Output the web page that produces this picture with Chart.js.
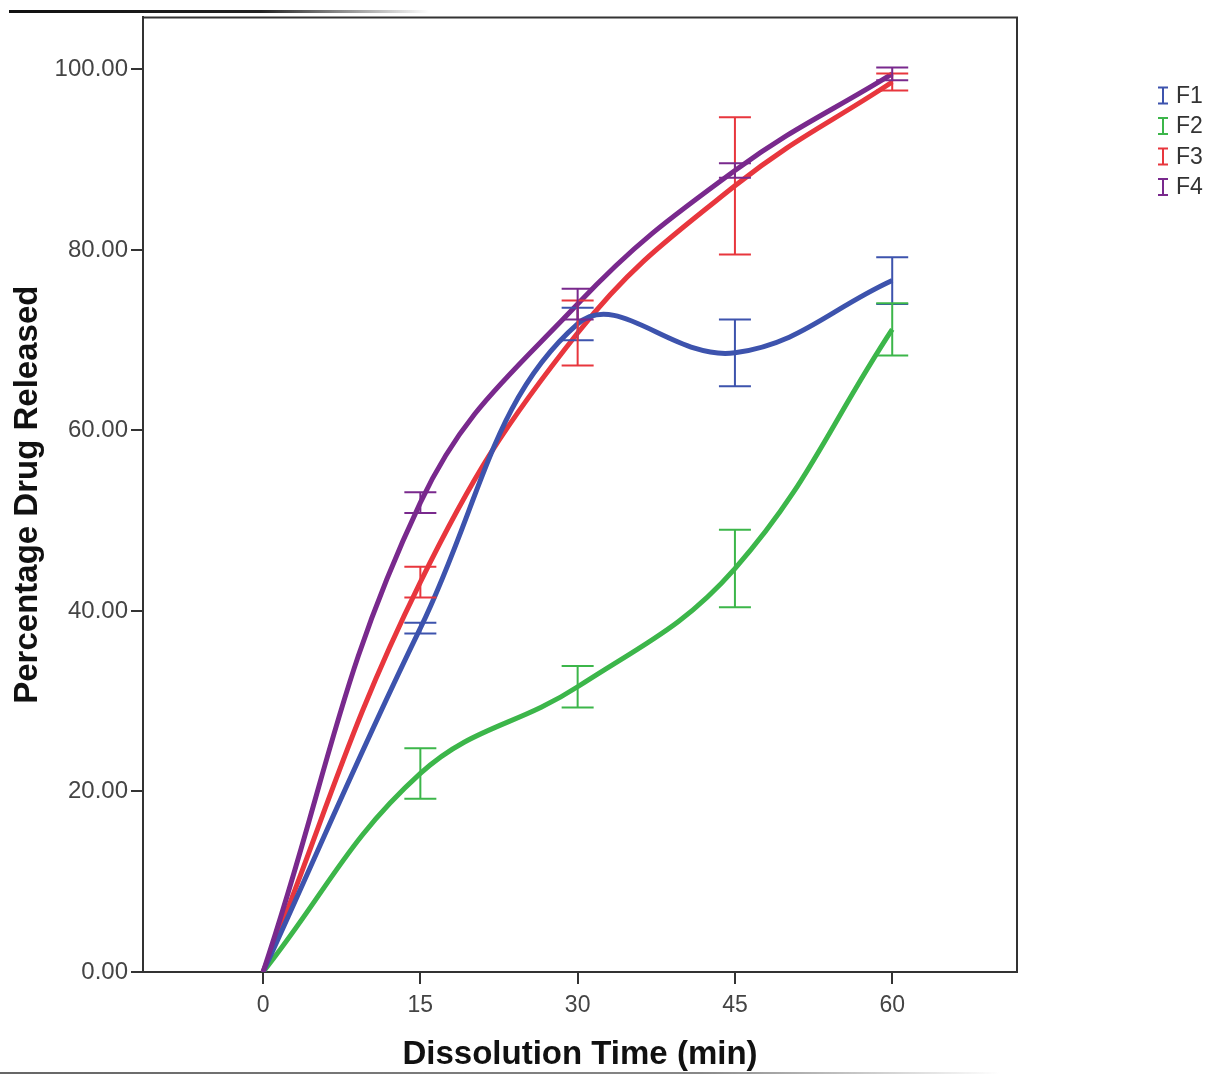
<!DOCTYPE html>
<html>
<head>
<meta charset="utf-8">
<script src="https://cdn.jsdelivr.net/npm/chart.js@4.4.1/dist/chart.umd.min.js"></script>
<style>
  html, body { margin: 0; padding: 0; background: #fff; }
  #wrap { position: relative; width: 1208px; height: 1075px; }
  #topLine { position: absolute; left: 9px; top: 10px; width: 420px; height: 3px;
    background: linear-gradient(to right, #111 0%, #222 60%, rgba(60,60,60,0) 100%); }
  #bottomLine { position: absolute; left: 0; top: 1072px; width: 1000px; height: 2px;
    background: linear-gradient(to right, #666 0%, #888 70%, rgba(150,150,150,0) 100%); }
</style>
</head>
<body>
<div id="wrap">
  <canvas id="chart" width="1208" height="1075"></canvas>
  <div id="topLine"></div>
  <div id="bottomLine"></div>
</div>
<script>
// data
const times = [0, 15, 30, 45, 60];
const labels = ['F1', 'F2', 'F3', 'F4'];
const colors = ['#3d53ad', '#3cb64a', '#e8363d', '#79298d'];

const f1 = [0, 38.1, 71.8, 68.6, 76.6];
const f2 = [0, 22.0, 31.6, 44.7, 71.2];
const f3 = [0, 43.2, 70.8, 87.1, 98.6];
const f4 = [0, 52.0, 74.0, 88.8, 99.5];

const f1Err = [0, 0.6, 1.8, 3.7, 2.6];
const f2Err = [0, 2.8, 2.3, 4.3, 2.9];
const f3Err = [0, 1.7, 3.6, 7.6, 0.95];
const f4Err = [0, 1.15, 1.7, 0.8, 0.7];

const yTicks = [0, 20, 40, 60, 80, 100];

const series = [f1, f2, f3, f4];
const errors = [f1Err, f2Err, f3Err, f4Err];

// error bars drawn on top of the curves
const errorBars = {
    id: 'errorBars',
    afterDatasetsDraw(chart) {
        const { ctx, scales: { x, y } } = chart;
        ctx.save();
        ctx.lineWidth = 2;
        series.forEach((vals, i) => {
            ctx.strokeStyle = colors[i];
            times.forEach((t, j) => {
                const e = errors[i][j];
                if (!e) return;
                const px = x.getPixelForValue(t);
                const top = y.getPixelForValue(vals[j] + e);
                const bot = y.getPixelForValue(vals[j] - e);
                ctx.beginPath();
                ctx.moveTo(px, top); ctx.lineTo(px, bot);
                ctx.moveTo(px - 16, top); ctx.lineTo(px + 16, top);
                ctx.moveTo(px - 16, bot); ctx.lineTo(px + 16, bot);
                ctx.stroke();
            });
        });
        ctx.restore();
    }
};

// box round the plot + legend at the top right
const frameAndLegend = {
    id: 'frameAndLegend',
    afterDraw(chart) {
        const { ctx, chartArea: a } = chart;
        ctx.save();
        ctx.strokeStyle = '#333';
        ctx.lineWidth = 2;
        ctx.beginPath();
        ctx.moveTo(a.left, a.top); ctx.lineTo(a.right, a.top); ctx.lineTo(a.right, a.bottom);
        ctx.stroke();

        ctx.font = '23px "Liberation Sans", Arial, sans-serif';
        ctx.textBaseline = 'middle';
        labels.forEach((lab, i) => {
            const cx = a.right + 146;
            const cy = a.top + 78 + i * 30.5;
            ctx.strokeStyle = colors[i];
            ctx.lineWidth = 2;
            ctx.beginPath();
            ctx.moveTo(cx, cy - 8); ctx.lineTo(cx, cy + 8);
            ctx.moveTo(cx - 5, cy - 8); ctx.lineTo(cx + 5, cy - 8);
            ctx.moveTo(cx - 5, cy + 8); ctx.lineTo(cx + 5, cy + 8);
            ctx.stroke();
            ctx.fillStyle = '#333';
            ctx.fillText(lab, cx + 13, cy + 1);
        });
        ctx.restore();
    }
};

const ctx = document.getElementById('chart').getContext('2d');
new Chart(ctx, {
    type: 'line',
    data: {
        datasets: series.map((vals, i) => ({
            label: labels[i],
            data: times.map((t, j) => ({ x: t, y: vals[j] })),
            borderColor: colors[i],
            borderWidth: 5,
            pointRadius: 0,
            tension: 0.4,
            fill: false,
            order: i === 2 ? 3 : (i === 0 ? 2 : (i === 1 ? 4 : 1))
        }))
    },
    options: {
        responsive: false,
        animation: false,
        layout: { padding: { top: 17, right: 191, left: 0, bottom: 0 } },
        plugins: { legend: { display: false }, tooltip: { enabled: false } },
        scales: {
            x: {
                type: 'linear',
                min: -11.45,
                max: 71.9,
                afterBuildTicks: s => { s.ticks = times.map(v => ({ value: v })); },
                afterFit: s => { s.height = 103; },
                grid: { drawOnChartArea: false, drawTicks: true, tickLength: 12, color: '#333', lineWidth: 2 },
                border: { color: '#333', width: 2 },
                ticks: { color: '#444', padding: 8, maxRotation: 0,
                    font: { family: '"Liberation Sans", Arial, sans-serif', size: 23 } },
                title: { display: true, text: 'Dissolution Time (min)', color: '#111',
                    padding: { top: 0, bottom: 0 },
                    font: { family: '"Liberation Sans", Arial, sans-serif', size: 33, weight: 'bold' } }
            },
            y: {
                min: 0,
                max: 105.76,
                afterBuildTicks: s => { s.ticks = yTicks.map(v => ({ value: v })); },
                afterFit: s => { s.width = 143; },
                grid: { drawOnChartArea: false, drawTicks: true, tickLength: 12, color: '#333', lineWidth: 2 },
                border: { color: '#333', width: 2 },
                ticks: { color: '#444', padding: 3,
                    callback: v => Number(v).toFixed(2),
                    font: { family: '"Liberation Sans", Arial, sans-serif', size: 24 } },
                title: { display: true, text: 'Percentage Drug Released', color: '#111',
                    padding: { top: 8, bottom: 0 },
                    font: { family: '"Liberation Sans", Arial, sans-serif', size: 33, weight: 'bold' } }
            }
        }
    },
    plugins: [errorBars, frameAndLegend]
});
</script>
</body>
</html>
